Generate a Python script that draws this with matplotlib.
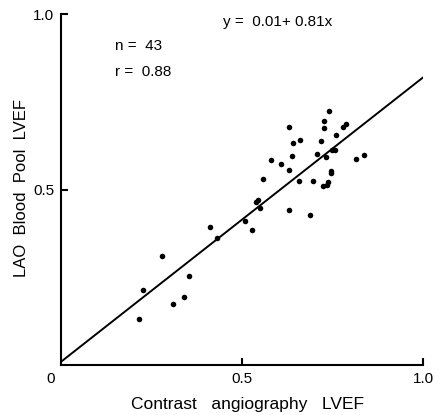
import matplotlib
matplotlib.use("Agg")
import matplotlib.pyplot as plt
import numpy as np

# Data
angio_lvef = [0.216, 0.227, 0.278, 0.309, 0.340, 0.354, 0.411, 0.430, 0.508, 0.527,
              0.538, 0.544, 0.550, 0.557, 0.580, 0.608, 0.628, 0.628, 0.629, 0.637,
              0.640, 0.658, 0.660, 0.688, 0.695, 0.707, 0.718, 0.725, 0.727, 0.731,
              0.724, 0.733, 0.736, 0.741, 0.744, 0.744, 0.748, 0.757, 0.758, 0.778,
              0.788, 0.814, 0.835]
blood_pool_lvef = [0.131, 0.213, 0.312, 0.175, 0.193, 0.253, 0.394, 0.361, 0.410, 0.385,
                   0.465, 0.470, 0.447, 0.530, 0.583, 0.572, 0.678, 0.555, 0.441, 0.596,
                   0.632, 0.524, 0.641, 0.428, 0.524, 0.602, 0.639, 0.694, 0.675, 0.594,
                   0.510, 0.512, 0.523, 0.723, 0.553, 0.546, 0.612, 0.612, 0.655, 0.678,
                   0.688, 0.586, 0.598]
intercept = 0.01
slope = 0.81
line_x = [0.0, 1.0]
x_ticks = [0.5, 1.0]
x_tick_labels = ["0.5", "1.0"]
y_ticks = [0.5, 1.0]
y_tick_labels = ["0.5", "1.0"]

plt.rcParams['font.family'] = ['Liberation Sans', 'DejaVu Sans']

fig = plt.figure(figsize=(4.39, 4.15), dpi=100)
ax = fig.add_axes([61/439, 49.7/415, 362.3/439, 351.3/415])

ax.scatter(angio_lvef, blood_pool_lvef, s=16, color='black', zorder=3, linewidths=0)
lx = np.array(line_x)
ax.plot(lx, intercept + slope * lx, color='black', lw=1.4)

ax.set_xlim(0, 1.0)
ax.set_ylim(0, 1.0)
for s in ['top', 'right']:
    ax.spines[s].set_visible(False)
for s in ['left', 'bottom']:
    ax.spines[s].set_linewidth(1.5)

ax.set_xticks(x_ticks)
ax.set_xticklabels(x_tick_labels)
ax.set_yticks(y_ticks)
ax.set_yticklabels(y_tick_labels)
ax.tick_params(direction='in', length=5, width=1.5, labelsize=11, pad=5)
ax.tick_params(axis='y', pad=5)
ax.text(-0.03, -0.039, "0", transform=ax.transAxes, ha='center', va='center', fontsize=11)

ax.set_xlabel("Contrast   angiography   LVEF", fontsize=12.5, va='center')
ax.xaxis.set_label_coords(0.516, -0.113)
ax.set_ylabel("LAO  Blood  Pool  LVEF", fontsize=12, va='center')
ax.yaxis.set_label_coords(-0.108, 0.505)

ax.text(0.447, 0.977, "y =  0.01+ 0.81x", transform=ax.transAxes, fontsize=11, va='center', ha='left')
ax.text(0.149, 0.909, "n =  43", transform=ax.transAxes, fontsize=11, va='center', ha='left')
ax.text(0.149, 0.835, "r =  0.88", transform=ax.transAxes, fontsize=11, va='center', ha='left')

fig.savefig("out.png", dpi=100)
